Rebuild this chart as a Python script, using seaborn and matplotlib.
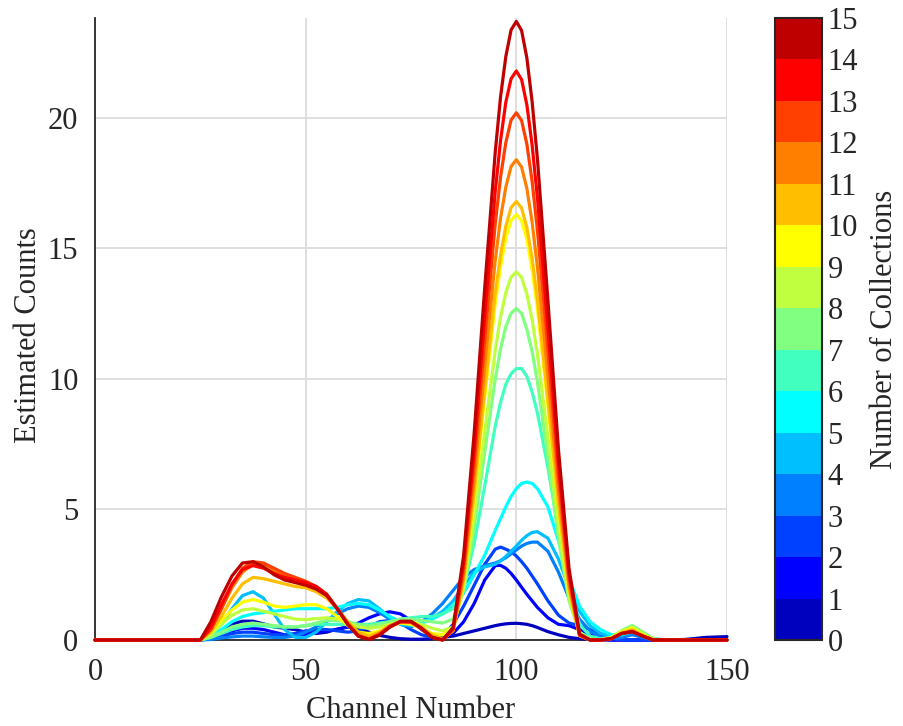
import numpy as np
import pandas as pd
import matplotlib
matplotlib.use("Agg")
import matplotlib.pyplot as plt
import seaborn as sns
from matplotlib.colors import ListedColormap, BoundaryNorm
from matplotlib.cm import ScalarMappable

# ---------------- data ----------------
channels = ([0, 10, 20, 25]
            + [27.5, 30, 32.5, 35, 37.5, 40, 42.5, 45, 47.5, 50, 52.5, 55, 57.5, 60,
               62.5, 65, 67.5, 70, 72.5, 75, 77.5, 80, 82.5]
            + [85, 87.5, 90, 92.5, 95, 96.25, 97.5, 98.75, 100, 101.25, 102.5, 103.75,
               105, 107.5, 110, 112.5, 115]
            + [117.5, 120, 122.5, 125, 127.5, 130, 132.5, 135]
            + [140, 145, 150])

c00 = ([0, 0, 0, 0]
       + [0.1, 0.35, 0.6, 0.72, 0.72, 0.62, 0.5, 0.45, 0.4, 0.3, 0.25, 0.3, 0.42, 0.5, 0.45, 0.3, 0.18, 0.1, 0.05, 0.03, 0.03, 0.05, 0.1]
       + [0.15, 0.25, 0.35, 0.45, 0.55, 0.59, 0.62, 0.635, 0.64, 0.625, 0.6, 0.55, 0.48, 0.32, 0.2, 0.1, 0.05]
       + [0.02, 0, 0, 0, 0, 0, 0, 0]
       + [0.02, 0.1, 0.13])
c01 = ([0, 0, 0, 0]
       + [0.05, 0.2, 0.35, 0.45, 0.45, 0.4, 0.3, 0.2, 0.15, 0.2, 0.3, 0.35, 0.4, 0.5, 0.65, 0.85, 1.0, 1.08, 1.0, 0.75, 0.4, 0.15, 0.1]
       + [0.25, 0.7, 1.4, 2.3, 2.85, 2.86, 2.75, 2.55, 2.3, 2.02, 1.75, 1.5, 1.25, 0.85, 0.6, 0.55, 0.4]
       + [0.2, 0.05, 0, 0, 0, 0, 0, 0]
       + [0, 0, 0])
c02 = ([0, 0, 0, 0]
       + [0.05, 0.15, 0.25, 0.3, 0.3, 0.25, 0.2, 0.2, 0.25, 0.35, 0.4, 0.4, 0.35, 0.3, 0.35, 0.5, 0.7, 0.75, 0.65, 0.4, 0.2, 0.1, 0.15]
       + [0.6, 1.3, 2.1, 2.9, 3.48, 3.56, 3.48, 3.38, 3.22, 3.0, 2.75, 2.45, 2.15, 1.5, 0.95, 0.65, 0.55]
       + [0.4, 0.2, 0.05, 0, 0, 0, 0, 0]
       + [0, 0, 0])
c03 = ([0, 0, 0, 0]
       + [0.02, 0.08, 0.12, 0.15, 0.15, 0.12, 0.1, 0.1, 0.15, 0.3, 0.5, 0.75, 1.0, 1.2, 1.3, 1.25, 1.05, 0.8, 0.6, 0.5, 0.7, 1.0, 1.4]
       + [1.9, 2.4, 2.7, 2.85, 2.95, 3.04, 3.15, 3.3, 3.45, 3.6, 3.7, 3.75, 3.75, 3.4, 2.6, 1.6, 0.8]
       + [0.35, 0.1, 0.05, 0.1, 0.2, 0.1, 0, 0]
       + [0, 0, 0])
c04 = ([0, 0, 0, 0]
       + [0.2, 0.6, 1.2, 1.7, 1.85, 1.6, 1.0, 0.4, 0.1, 0.1, 0.3, 0.7, 1.1, 1.4, 1.55, 1.5, 1.2, 0.85, 0.6, 0.55, 0.65, 0.85, 1.1]
       + [1.5, 2.1, 2.6, 2.8, 2.9, 3.03, 3.2, 3.4, 3.6, 3.82, 4.0, 4.12, 4.15, 3.9, 3.1, 2.0, 1.1]
       + [0.55, 0.25, 0.15, 0.2, 0.3, 0.2, 0.05, 0]
       + [0, 0, 0])
c05 = ([0, 0, 0, 0]
       + [0.15, 0.4, 0.7, 0.9, 1.0, 1.05, 1.1, 1.15, 1.2, 1.2, 1.2, 1.2, 1.25, 1.35, 1.4, 1.35, 1.15, 0.9, 0.7, 0.6, 0.65, 0.8, 1.0]
       + [1.3, 1.8, 2.5, 3.25, 4.2, 4.65, 5.1, 5.5, 5.8, 6.0, 6.05, 6.0, 5.8, 5.1, 3.8, 2.35, 1.3]
       + [0.7, 0.4, 0.2, 0.2, 0.35, 0.2, 0.05, 0]
       + [0, 0, 0])
c06 = ([0, 0, 0, 0]
       + [0.1, 0.25, 0.4, 0.5, 0.55, 0.55, 0.5, 0.5, 0.5, 0.55, 0.6, 0.6, 0.6, 0.6, 0.6, 0.6, 0.65, 0.7, 0.8, 0.85, 0.9, 0.9, 1.0]
       + [1.2, 2.0, 3.7, 5.9, 8.2, 9.1, 9.8, 10.2, 10.4, 10.4, 10.1, 9.5, 8.7, 6.6, 4.2, 2.0, 0.6]
       + [0.15, 0.05, 0.1, 0.35, 0.55, 0.3, 0.05, 0]
       + [0, 0, 0])
c07 = ([0, 0, 0, 0]
       + [0.1, 0.3, 0.5, 0.6, 0.65, 0.6, 0.55, 0.5, 0.5, 0.55, 0.65, 0.75, 0.75, 0.7, 0.6, 0.55, 0.6, 0.7, 0.8, 0.8, 0.75, 0.7, 0.65]
       + [0.8, 1.9, 4.3, 7.2, 10.0, 11.15, 12.0, 12.52, 12.7, 12.51, 11.9, 11.05, 9.9, 7.0, 3.9, 1.5, 0.3]
       + [0.05, 0, 0.1, 0.35, 0.55, 0.3, 0.05, 0]
       + [0, 0, 0])
c08 = ([0, 0, 0, 0]
       + [0.2, 0.6, 0.95, 1.15, 1.2, 1.1, 1.0, 0.9, 0.8, 0.78, 0.82, 0.85, 0.8, 0.65, 0.5, 0.45, 0.5, 0.6, 0.7, 0.7, 0.6, 0.45, 0.35]
       + [0.5, 2.0, 4.75, 8.0, 11.1, 12.37, 13.3, 13.9, 14.1, 13.89, 13.25, 12.27, 10.95, 7.75, 4.35, 1.65, 0.25]
       + [0.02, 0, 0.1, 0.35, 0.5, 0.25, 0.03, 0]
       + [0, 0, 0])
c09 = ([0, 0, 0, 0]
       + [0.3, 0.75, 1.15, 1.45, 1.55, 1.45, 1.3, 1.25, 1.3, 1.35, 1.35, 1.2, 0.9, 0.55, 0.3, 0.25, 0.35, 0.55, 0.65, 0.6, 0.45, 0.25, 0.2]
       + [0.45, 2.3, 5.5, 9.3, 12.9, 14.3, 15.4, 16.07, 16.3, 16.06, 15.35, 14.18, 12.7, 8.95, 5.05, 1.9, 0.2]
       + [0, 0, 0.08, 0.3, 0.45, 0.2, 0.02, 0]
       + [0, 0, 0])
c10 = ([0, 0, 0, 0]
       + [0.3, 0.9, 1.6, 2.15, 2.4, 2.35, 2.25, 2.15, 2.05, 2.0, 1.85, 1.6, 1.2, 0.7, 0.3, 0.15, 0.3, 0.55, 0.7, 0.7, 0.5, 0.2, 0.05]
       + [0.35, 2.3, 5.65, 9.55, 13.3, 14.74, 15.85, 16.56, 16.8, 16.55, 15.8, 14.61, 13.05, 9.2, 5.2, 1.95, 0.16]
       + [0, 0, 0.05, 0.28, 0.4, 0.18, 0, 0]
       + [0, 0, 0])
c11 = ([0, 0, 0, 0]
       + [0.4, 1.2, 2.0, 2.6, 2.9, 2.85, 2.65, 2.45, 2.3, 2.2, 2.0, 1.7, 1.2, 0.65, 0.2, 0.05, 0.25, 0.55, 0.7, 0.68, 0.45, 0.12, 0.02]
       + [0.37, 2.5, 6.2, 10.5, 14.55, 16.15, 17.35, 18.14, 18.4, 18.12, 17.3, 16.0, 14.3, 10.1, 5.7, 2.15, 0.18]
       + [0, 0, 0.05, 0.25, 0.35, 0.15, 0, 0]
       + [0, 0, 0])
c12 = ([0, 0, 0, 0]
       + [0.4, 1.2, 2.1, 2.75, 3.0, 2.95, 2.75, 2.55, 2.4, 2.25, 2.05, 1.75, 1.2, 0.6, 0.15, 0.03, 0.22, 0.52, 0.7, 0.68, 0.42, 0.1, 0]
       + [0.4, 2.75, 6.8, 11.5, 15.95, 17.73, 19.05, 19.92, 20.2, 19.9, 19.0, 17.57, 15.7, 11.1, 6.25, 2.35, 0.19]
       + [0, 0, 0.05, 0.25, 0.33, 0.15, 0, 0]
       + [0, 0, 0])
c13 = ([0, 0, 0, 0]
       + [0.5, 1.35, 2.15, 2.7, 2.85, 2.75, 2.55, 2.4, 2.3, 2.2, 2.05, 1.75, 1.2, 0.6, 0.15, 0.02, 0.2, 0.5, 0.7, 0.7, 0.45, 0.1, 0]
       + [0.44, 3.0, 7.3, 12.4, 17.2, 19.13, 20.6, 21.5, 21.8, 21.47, 20.5, 18.96, 16.95, 11.95, 6.75, 2.55, 0.21]
       + [0, 0, 0.05, 0.25, 0.32, 0.15, 0, 0]
       + [0, 0, 0])
c14 = ([0, 0, 0, 0]
       + [0.7, 1.65, 2.45, 2.95, 3.0, 2.8, 2.5, 2.3, 2.2, 2.1, 1.95, 1.7, 1.2, 0.6, 0.15, 0.02, 0.18, 0.5, 0.72, 0.72, 0.45, 0.1, 0]
       + [0.48, 3.25, 7.95, 13.5, 18.7, 20.8, 22.35, 23.37, 23.7, 23.35, 22.3, 20.62, 18.45, 13.0, 7.3, 2.75, 0.23]
       + [0, 0, 0.05, 0.25, 0.32, 0.15, 0, 0]
       + [0, 0, 0])

curves = [c00, c01, c02, c03, c04, c05, c06, c07, c08, c09, c10, c11, c12, c13, c14]
collections = list(range(1, 16))
cbar_ticks = list(range(0, 16))

# MATLAB jet(15)
jet15 = [(0, 0, .75), (0, 0, 1), (0, .25, 1), (0, .5, 1), (0, .75, 1), (0, 1, 1),
         (.25, 1, .75), (.5, 1, .5), (.75, 1, .25), (1, 1, 0), (1, .75, 0),
         (1, .5, 0), (1, .25, 0), (1, 0, 0), (.75, 0, 0)]

for c in curves:
    assert len(c) == len(channels), len(c)

rows = []
for n, c in zip(collections, curves):
    for x, y in zip(channels, c):
        rows.append((n, x, y))
df = pd.DataFrame(rows, columns=["collection", "channel", "counts"])

# ---------------- plot ----------------
sns.set_style("white")
plt.rcParams["font.family"] = ["Liberation Serif", "DejaVu Serif"]
FS = 22
TXT = "#262626"

fig = plt.figure(figsize=(9.04, 7.26), dpi=100)
ax = fig.add_axes([95 / 904, 86 / 726, 632 / 904, 622 / 726])
cax = fig.add_axes([775 / 904, 86 / 726, 47 / 904, 622 / 726])

sns.lineplot(data=df, x="channel", y="counts", hue="collection",
             palette=jet15, estimator=None, sort=False, legend=False,
             lw=2.3, ax=ax, zorder=3, clip_on=False)

ax.set_xlim(0, 150)
ax.set_ylim(0, 23.83)
ax.set_xticks([0, 50, 100, 150])
ax.set_yticks([0, 5, 10, 15, 20])
ax.grid(True, color="#dcdcdc", lw=1.3)
ax.set_axisbelow(True)
for s in ["top", "right"]:
    ax.spines[s].set_visible(False)
for s in ["left", "bottom"]:
    ax.spines[s].set_color(TXT)
    ax.spines[s].set_linewidth(1.3)
ax.tick_params(direction="in", length=7, width=1.2, colors=TXT,
               labelsize=FS, labelcolor=TXT)
ax.tick_params(axis="y", pad=12)
ax.tick_params(axis="x", pad=13)
ax.set_xlabel("Channel Number", fontsize=FS, color=TXT, va="center")
ax.set_ylabel("Estimated Counts", fontsize=FS, color=TXT, va="center")
ax.xaxis.set_label_coords(0.5, (640 - 711) / 622)
ax.yaxis.set_label_coords((29 - 95) / 632, 0.49)

cmap = ListedColormap(jet15)
norm = BoundaryNorm(cbar_ticks, cmap.N)
sm = ScalarMappable(norm=norm, cmap=cmap)
cb = fig.colorbar(sm, cax=cax, ticks=cbar_ticks)
cb.outline.set_linewidth(1.5)
cb.outline.set_edgecolor(TXT)
cb.ax.tick_params(direction="in", length=6, width=1.2, colors=TXT,
                  labelsize=FS, labelcolor=TXT, pad=4)
cb.set_label("Number of Collections", fontsize=FS, color=TXT, va="center")
cb.ax.yaxis.set_label_coords((885 - 775) / 47, 0.5)

fig.savefig("out.png", dpi=100)
